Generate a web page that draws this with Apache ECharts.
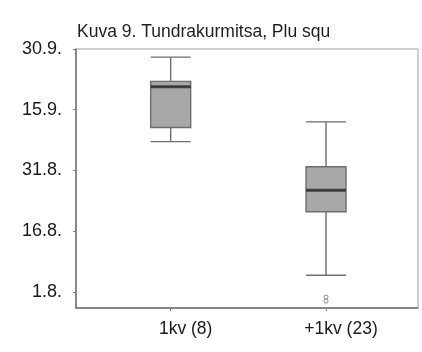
<!DOCTYPE html>
<html>
<head>
<meta charset="utf-8">
<script src="https://cdn.jsdelivr.net/npm/echarts@6/dist/echarts.min.js"></script>
<style>html,body{margin:0;padding:0;background:#fff;}#c{width:422px;height:352px;}</style>
</head>
<body>
<div id="c"></div>
<script>
// Days after 1.8. (y axis), tick labels are dates (day.month.)
const titleText = 'Kuva 9. Tundrakurmitsa, Plu squ';
const categories = ['1kv (8)', '+1kv (23)'];
const tickValues = [0, 15, 30, 45, 60];
const tickLabels = ['1.8.', '16.8.', '31.8.', '15.9.', '30.9.'];
// [min, Q1, median, Q3, max]
const boxValues = [
  [37.1, 40.6, 50.7, 52.0, 58.0],
  [4.1, 19.8, 25.1, 30.9, 42.0]
];
const outliers = [[1, -1.3], [1, -2.3]];

const medians = boxValues.map((b, i) => [i, b[2]]);
const labelMap = {};
tickValues.forEach((v, i) => { labelMap[v] = tickLabels[i]; });

const chart = echarts.init(document.getElementById('c'), null, {renderer: 'canvas'});
const fontFamily = '"Liberation Sans", Arial, sans-serif';
const yMin = -4, yMax = 60;
chart.setOption({
  animation: false,
  backgroundColor: '#ffffff',
  title: {
    text: titleText, left: 72, top: 18,
    textStyle: {fontSize: 17.5, fontWeight: 'normal', color: '#1e1e1e', fontFamily: fontFamily}
  },
  grid: [
    {left: 76, right: 4, top: 49, bottom: 44, show: true, borderColor: '#a0a0a0', borderWidth: 1, backgroundColor: '#fff'},
    {left: 93, right: 18.3, top: 49, bottom: 44}
  ],
  xAxis: [
    {gridIndex: 0, type: 'category', data: categories,
     axisLine: {show: true, onZero: false, lineStyle: {color: '#707070', width: 1.5}},
     axisTick: {show: false}, axisLabel: {show: false}, splitLine: {show: false}},
    {gridIndex: 1, type: 'category', data: categories,
     axisLine: {show: false, onZero: false},
     axisTick: {show: true, alignWithLabel: true, length: 3, lineStyle: {color: '#808080'}},
     axisLabel: {margin: 12, fontSize: 17.5, color: '#1a1a1a', fontFamily: fontFamily, padding: [0, 0, 0, 30]},
     splitLine: {show: false}}
  ],
  yAxis: [
    {gridIndex: 0, type: 'value', min: yMin, max: yMax,
     axisLine: {show: true, onZero: false, lineStyle: {color: '#707070', width: 1.5}},
     axisTick: {show: true, length: 3, customValues: tickValues, lineStyle: {color: '#808080'}},
     axisLabel: {customValues: tickValues, formatter: v => labelMap[v] || '', margin: 14,
                 fontSize: 18, color: '#1a1a1a', fontFamily: fontFamily},
     splitLine: {show: false}},
    {gridIndex: 1, type: 'value', min: yMin, max: yMax, show: false, splitLine: {show: false}}
  ],
  series: [
    {type: 'boxplot', xAxisIndex: 1, yAxisIndex: 1, data: boxValues, boxWidth: [40, 40],
     itemStyle: {color: '#a8a8a8', borderColor: '#6e6e6e', borderWidth: 1.4},
     emphasis: {disabled: true}},
    {type: 'scatter', xAxisIndex: 1, yAxisIndex: 1, data: medians, symbol: 'rect', symbolSize: [40, 3],
     itemStyle: {color: '#2a2a2a'}, silent: true},
    {type: 'scatter', xAxisIndex: 1, yAxisIndex: 1, data: outliers, symbol: 'circle', symbolSize: 4,
     itemStyle: {color: '#fff', borderColor: '#707070', borderWidth: 1}, silent: true}
  ]
});
</script>
</body>
</html>
